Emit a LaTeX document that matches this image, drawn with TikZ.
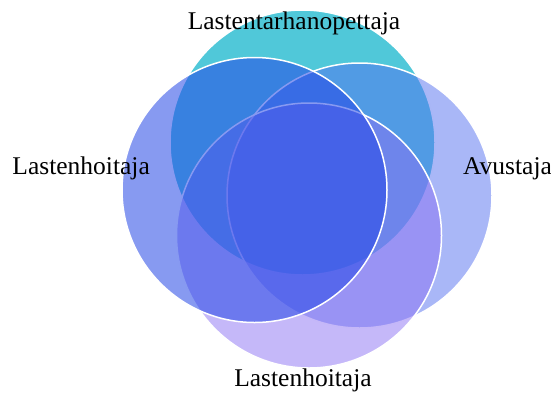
\documentclass[tikz,border=0pt]{standalone}
\usepackage{fontspec}
\setmainfont{Liberation Serif}
\definecolor{ctop}{RGB}{80,200,217}
\definecolor{cright}{RGB}{83,111,239}
\definecolor{cbottom}{RGB}{139,113,243}
\definecolor{cleft}{RGB}{37,71,230}
\tikzset{
  venn/.style={circle, minimum size=265pt, inner sep=0pt, draw=white, line width=1.5pt},
  lbl/.style={font=\fontsize{25.5}{30}\selectfont, text=black, inner sep=0pt}
}
\begin{document}
\begin{tikzpicture}[x=1pt,y=-1pt]
\useasboundingbox (0,0) rectangle (551,394);
\node[venn, fill=ctop] (top) at (302.5,142.5) {};
\node[venn, fill=cright, fill opacity=0.5] (right) at (359.5,195.5) {};
\node[venn, fill=cbottom, fill opacity=0.5] (bottom) at (309,235.5) {};
\node[venn, fill=cleft, fill opacity=0.55] (left) at (254.5,190) {};
\node[lbl, anchor=base] (ttop) at (294,29) {Lastentarhanopettaja};
\node[lbl, anchor=base east] (tleft) at (150,174) {Lastenhoitaja};
\node[lbl, anchor=base west] (tright) at (463,174) {Avustaja};
\node[lbl, anchor=base] (tbottom) at (303,386) {Lastenhoitaja};
\end{tikzpicture}
\end{document}
